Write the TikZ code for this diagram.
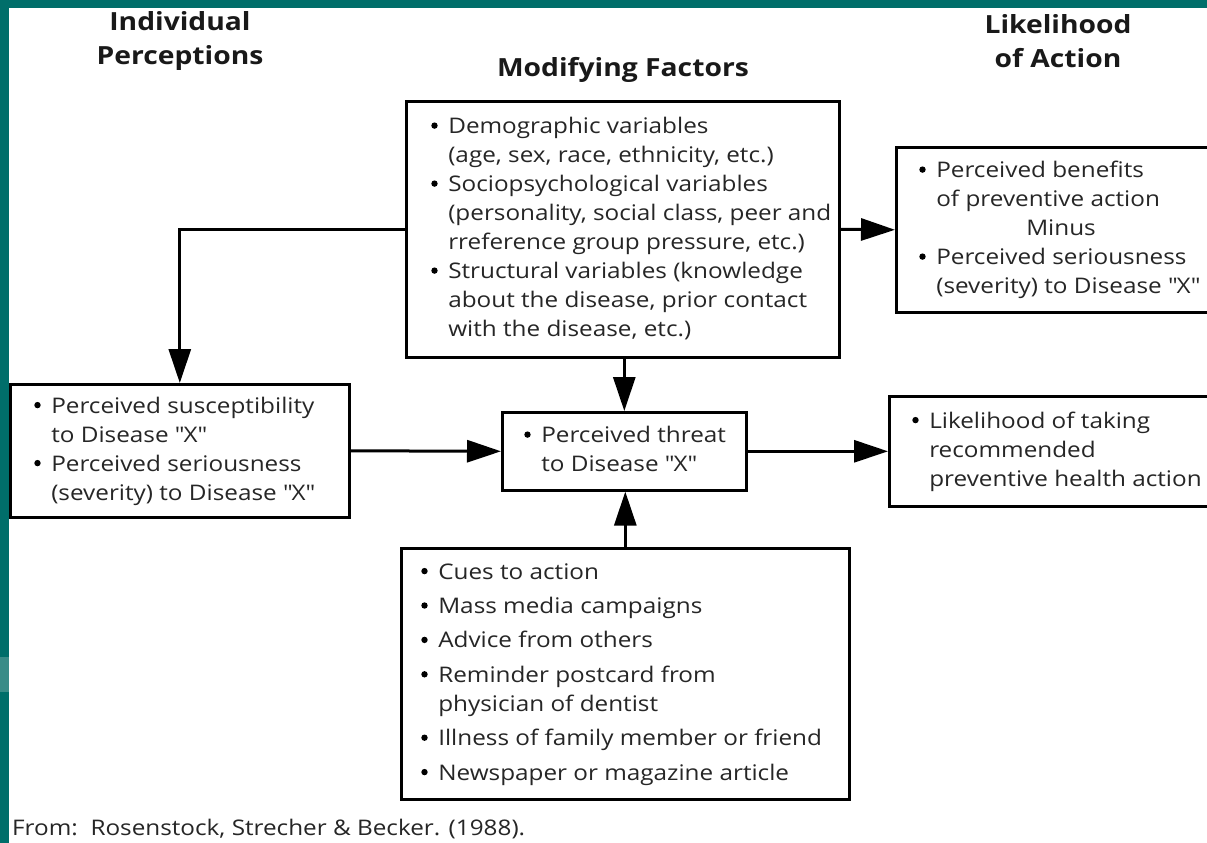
\documentclass[tikz,border=0pt]{standalone}
\usepackage{fontspec}
\setmainfont{Open Sans}[FakeStretch=1.13]
\usetikzlibrary{arrows.meta}
\definecolor{teal1}{HTML}{006E6A}
\definecolor{teal2}{HTML}{3A8C88}
\newcommand\bl{\makebox[17pt][l]{\tikz[baseline=-8pt]\fill[black] (0,0) circle (3.2pt);}}
\newcommand\ind{\hspace*{17pt}}
\newcommand\qq{\XeTeXglyph\XeTeXcharglyph"22\relax}
\newcommand\tx[2]{\makebox[#1][l]{\begin{tabular}{@{}l@{}}#2\end{tabular}}}
\tikzset{
  box/.style={draw=black, line width=2.6pt, anchor=north west, inner ysep=0pt,
    font=\fontsize{21.5}{29}\selectfont, text=black!85},
  arr/.style={line width=3pt, -{Triangle[length=34pt,width=22pt]}},
  ttl/.style={font=\fontsize{25}{34}\bfseries\selectfont, align=center, text=black!90},
}
\begin{document}
\begin{tikzpicture}[x=1pt,y=-1pt]
\useasboundingbox (0,0) rectangle (1207,843);
\clip (0,0) rectangle (1207,843);
\fill[white] (0,0) rectangle (1207,843);
\fill[teal1] (0,0) rectangle (1207,8);
\fill[teal1] (0,0) rectangle (9,843);
\fill[teal2] (0,657) rectangle (9,692);

\node[ttl] (t1) at (180,41) {Individual\\Perceptions};
\node[ttl] (t2) at (623,70) {Modifying Factors};
\node[ttl] (t3) at (1058,41) {Likelihood\\of Action};

\node[box, inner xsep=25pt, minimum height=256pt] (mod) at (405,100)
 {\tx{383pt}{\bl Demographic variables\\
  \ind(age, sex, race, ethnicity, etc.)\\
  \bl Sociopsychological variables\\
  \ind(personality, social class, peer and\\
  \ind rreference group pressure, etc.)\\
  \bl Structural variables (knowledge\\
  \ind about the disease, prior contact\\
  \ind with the disease, etc.)}};

\node[box, inner xsep=23pt, minimum height=165pt] (rt) at (895,146)
 {\tx{274pt}{\bl Perceived benefits\\
  \ind of preventive action\\
  \hspace*{107pt}Minus\\
  \bl Perceived seriousness\\
  \ind(severity) to Disease \qq X\qq}};

\node[box, inner xsep=24pt, minimum height=133pt] (left) at (9,383)
 {\tx{291pt}{\bl Perceived susceptibility\\
  \ind to Disease \qq X\qq\\
  \bl Perceived seriousness\\
  \ind(severity) to Disease \qq X\qq}};

\node[box, inner xsep=22pt, minimum height=78pt] (threat) at (501,411)
 {\tx{200pt}{\bl Perceived threat\\
  \ind to Disease \qq X\qq}};

\node[box, inner xsep=23pt, minimum height=110pt] (lik) at (888,395)
 {\tx{281pt}{\bl Likelihood of taking\\
  \ind recommended\\
  \ind preventive health action}};

\node[box, inner xsep=20pt, minimum height=251pt] (cues) at (400,547)
 {\tx{408pt}{\bl Cues to action\\[5.4pt]
  \bl Mass media campaigns\\[5.4pt]
  \bl Advice from others\\[5.4pt]
  \bl Reminder postcard from\\
  \ind physician of dentist\\[5.4pt]
  \bl Illness of family member or friend\\[5.4pt]
  \bl Newspaper or magazine article}};

\node[anchor=base west, inner sep=0pt, font=\fontsize{21.5}{26}\selectfont, text=black!85] (src) at (12,835)
 {From:\ \ Rosenstock, Strecher \& Becker. (1988).};

\draw[arr] (mod.west) -| (left.north);
\draw[arr] (mod.east) -- (rt.west);
\draw[arr] (mod.south -| threat.north) -- (threat.north);
\draw[arr] (left.east) -- (threat.west);
\draw[arr] (threat.east) -- (lik.west);
\draw[arr] (cues.north) -- (cues.north |- threat.south);
\end{tikzpicture}
\end{document}
